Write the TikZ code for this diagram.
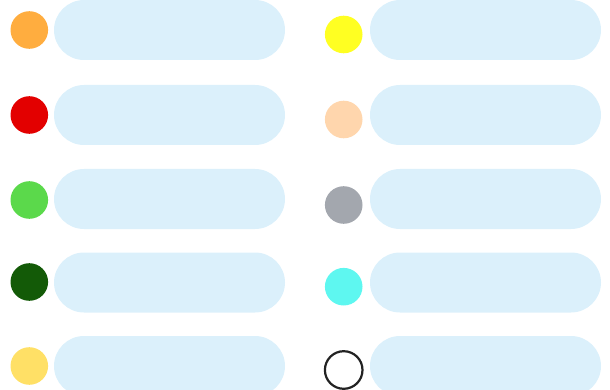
\documentclass[tikz,border=0pt]{standalone}
\begin{document}
\begin{tikzpicture}[x=1pt,y=-1pt,
  pill/.style={rectangle,rounded corners=30pt,fill=pillblue,draw=none,minimum width=231pt,minimum height=60pt,inner sep=0pt,outer sep=0pt},
  dot/.style={circle,draw=none,minimum size=37.6pt,inner sep=0pt,outer sep=0pt},
  ring/.style={circle,draw=ringblack,line width=2.2pt,fill=white,minimum size=37.6pt,inner sep=0pt,outer sep=0pt}]
\definecolor{pillblue}{HTML}{DBF0FB}
\definecolor{corange}{HTML}{FFAD3F}
\definecolor{cred}{HTML}{E30000}
\definecolor{cgreen}{HTML}{5BD94B}
\definecolor{cdkgreen}{HTML}{135A07}
\definecolor{cltyellow}{HTML}{FFE066}
\definecolor{cyellow}{HTML}{FFFF22}
\definecolor{cpeach}{HTML}{FFD6AD}
\definecolor{cgray}{HTML}{A3A7AE}
\definecolor{ccyan}{HTML}{5EF7F0}
\definecolor{ringblack}{HTML}{222222}
\useasboundingbox (0,0) rectangle (610,390);
\begin{scope}
\clip (0,0) rectangle (610,390);
% left column
\node[pill] (l1) at (169.5,30) {};
\node[pill] (l2) at (169.5,115) {};
\node[pill] (l3) at (169.5,199) {};
\node[pill] (l4) at (169.5,282.5) {};
\node[pill] (l5) at (169.5,366) {};
\node[dot,fill=corange] (dl1) at (29.3,30) {};
\node[dot,fill=cred] (dl2) at (29.3,115) {};
\node[dot,fill=cgreen] (dl3) at (29.3,200) {};
\node[dot,fill=cdkgreen] (dl4) at (29.3,282) {};
\node[dot,fill=cltyellow] (dl5) at (29.3,366) {};
% right column
\node[pill] (r1) at (485.5,30) {};
\node[pill] (r2) at (485.5,115) {};
\node[pill] (r3) at (485.5,199) {};
\node[pill] (r4) at (485.5,282.5) {};
\node[pill] (r5) at (485.5,366) {};
\node[dot,fill=cyellow] (dr1) at (343.7,34.5) {};
\node[dot,fill=cpeach] (dr2) at (343.7,119.5) {};
\node[dot,fill=cgray] (dr3) at (343.7,205) {};
\node[dot,fill=ccyan] (dr4) at (343.7,286.7) {};
\node[ring] (dr5) at (343.7,370) {};
\end{scope}
\end{tikzpicture}
\end{document}
